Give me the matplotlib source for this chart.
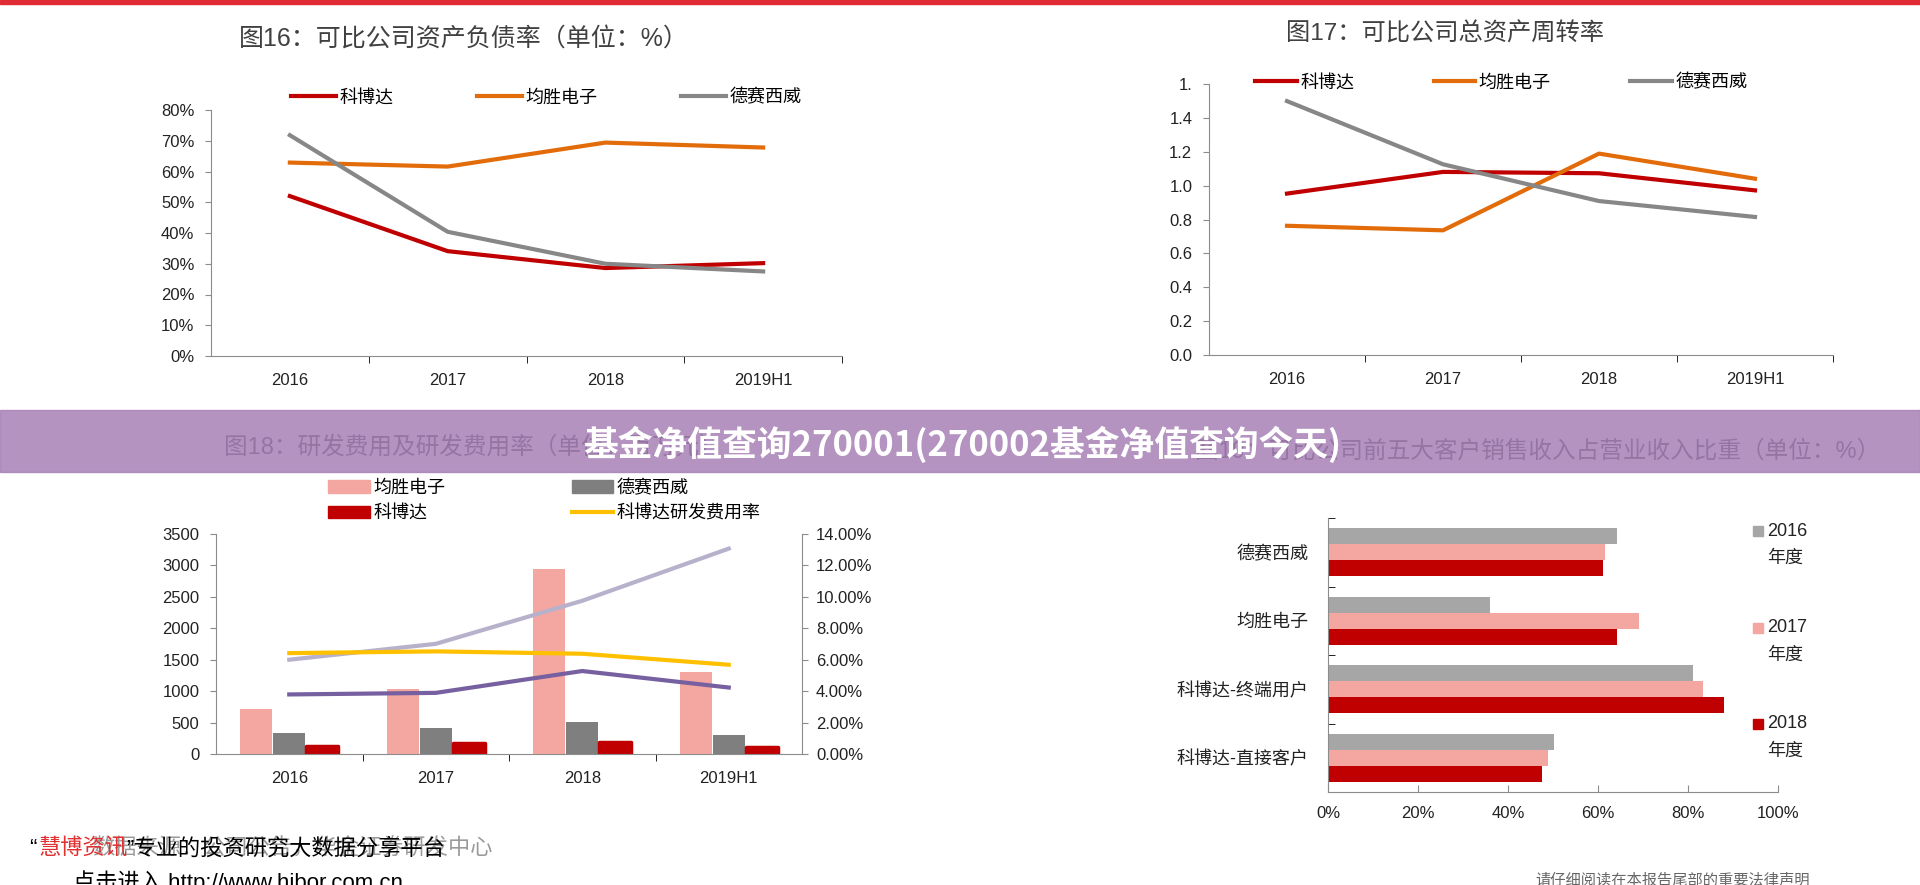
import numpy as np
import matplotlib
matplotlib.use('Agg')
import matplotlib.pyplot as plt
from matplotlib.patches import Rectangle, Patch
from matplotlib.lines import Line2D
from matplotlib.ticker import FuncFormatter

plt.rcParams['font.family'] = ['Liberation Sans', 'Noto Sans CJK SC']
plt.rcParams['axes.unicode_minus'] = False

years = ['2016', '2017', '2018', '2019H1']

# 图16 资产负债率(%)
debt_kbd = [52.0, 34.1, 28.6, 30.2]
debt_js = [62.9, 61.6, 69.4, 67.8]
debt_dsxw = [71.8, 40.4, 30.0, 27.5]

# 图17 总资产周转率
turn_kbd = [0.953, 1.081, 1.073, 0.972]
turn_js = [0.763, 0.736, 1.189, 1.041]
turn_dsxw = [1.499, 1.126, 0.909, 0.815]
turn_ticklabels = ['0.0', '0.2', '0.4', '0.6', '0.8', '1.0', '1.2', '1.4', '1.']

# 图18 研发费用(百万元)及研发费用率(%)
rd_js = [710, 1042, 2937, 1305]
rd_dsxw = [332, 411, 516, 295]
rd_kbd = [121, 174, 195, 105]
rate_kbd = [6.42, 6.53, 6.38, 5.68]
rate_js = [6.00, 7.01, 9.75, 13.07]
rate_dsxw = [3.79, 3.89, 5.28, 4.23]

# 图19 前五大客户收入占比(%)
cust_names = ['德赛西威', '均胜电子', '科博达-终端用户', '科博达-直接客户']
cust_2016 = [64.3, 36.1, 81.1, 50.2]
cust_2017 = [61.6, 69.2, 83.4, 48.9]
cust_2018 = [61.2, 64.2, 88.0, 47.5]
cust_years = ['2016', '2017', '2018']

RED = '#c00000'
ORANGE = '#e36c0a'
GREY = '#878787'
PINK = '#f4a7a0'
DGREY = '#7f7f7f'
LGREY = '#a6a6a6'
YELLOW = '#ffc000'
LAV = '#b8b1cc'
PURPLE = '#7660a0'
SPINE = '#8c8c8c'
TXT = '#222222'
TITLE = '#404040'

W, H = 1920, 885


def fx(x):
    return x / W


def fy(y):
    return 1 - y / H


def box(x0, y0, x1, y1):
    return [fx(x0), fy(y1), fx(x1 - x0), (y1 - y0) / H]


def style_axes(ax):
    for s in ['top', 'right']:
        ax.spines[s].set_visible(False)
    for s in ['left', 'bottom']:
        ax.spines[s].set_color(SPINE)
    ax.tick_params(colors=SPINE, labelcolor=TXT, labelsize=12)


fig = plt.figure(figsize=(19.2, 8.85), dpi=100)
x = np.arange(len(years))

# ---------- 图16 ----------
ax1 = fig.add_axes(box(211, 110, 842, 356))
ax1.plot(x, debt_kbd, color=RED, lw=3)
ax1.plot(x, debt_js, color=ORANGE, lw=3)
ax1.plot(x, debt_dsxw, color=GREY, lw=3)
ax1.set_xlim(-0.5, 3.5)
ax1.set_ylim(0, 80)
ax1.set_yticks(np.arange(0, 81, 10))
ax1.yaxis.set_major_formatter(FuncFormatter(lambda v, p: '%d%%' % v))
ax1.set_xticks(x, years)
ax1.set_xticks([0.5, 1.5, 2.5, 3.5], minor=True)
style_axes(ax1)
ax1.tick_params(axis='x', which='major', length=0, pad=12)
ax1.tick_params(axis='x', which='minor', length=5, direction='out')
ax1.tick_params(axis='y', length=4, pad=8)
fig.text(fx(239), fy(40), '图16：可比公司资产负债率（单位：%）', fontsize=18, color=TITLE, va='center')
h1 = [Line2D([], [], color=c, lw=3) for c in [RED, ORANGE, GREY]]
fig.legend(h1, ['科博达', '均胜电子', '德赛西威'], loc='center left', bbox_to_anchor=(fx(291), fy(98)),
           ncol=3, frameon=False, fontsize=13, handlelength=2.5, handletextpad=0.2, columnspacing=4.6,
           borderpad=0, borderaxespad=0)

# ---------- 图17 ----------
ax2 = fig.add_axes(box(1209, 84, 1833, 355))
ax2.plot(x, turn_kbd, color=RED, lw=3)
ax2.plot(x, turn_js, color=ORANGE, lw=3)
ax2.plot(x, turn_dsxw, color=GREY, lw=3)
ax2.set_xlim(-0.5, 3.5)
ax2.set_ylim(0, 1.6)
ax2.set_yticks(np.arange(0, 1.61, 0.2), turn_ticklabels)
ax2.set_xticks(x, years)
ax2.set_xticks([0.5, 1.5, 2.5, 3.5], minor=True)
style_axes(ax2)
ax2.tick_params(axis='x', which='major', length=0, pad=12)
ax2.tick_params(axis='x', which='minor', length=5, direction='out')
ax2.tick_params(axis='y', length=4, pad=8)
fig.text(fx(1286), fy(34), '图17：可比公司总资产周转率', fontsize=17.5, color=TITLE, va='center')
fig.legend(h1, ['科博达', '均胜电子', '德赛西威'], loc='center left', bbox_to_anchor=(fx(1255), fy(83)),
           ncol=3, frameon=False, fontsize=13, handlelength=2.3, handletextpad=0.2, columnspacing=4.4,
           borderpad=0, borderaxespad=0)

# ---------- 图18 ----------
ax3 = fig.add_axes(box(216, 534, 802, 754))
bw = 0.22
ax3.bar(x - 0.225, rd_js, width=bw, color=PINK, zorder=2)
ax3.bar(x, rd_dsxw, width=bw, color=DGREY, zorder=2)
ax3.bar(x + 0.225, rd_kbd, width=bw, color=RED, edgecolor=RED, lw=2.5, joinstyle='round', zorder=2)
ax3.set_xlim(-0.5, 3.5)
ax3.set_ylim(0, 3500)
ax3.set_yticks(np.arange(0, 3501, 500))
ax3.set_xticks(x, years)
ax3.set_xticks([0.5, 1.5, 2.5], minor=True)
style_axes(ax3)
ax3.tick_params(axis='x', which='major', length=0, pad=12)
ax3.tick_params(axis='x', which='minor', length=5, direction='out')
ax3.tick_params(axis='y', length=4, pad=8)

ax3b = ax3.twinx()
ax3b.plot(x, rate_js, color=LAV, lw=3)
ax3b.plot(x, rate_kbd, color=YELLOW, lw=3)
ax3b.plot(x, rate_dsxw, color=PURPLE, lw=3)
ax3b.set_ylim(0, 14)
ax3b.set_yticks(np.arange(0, 14.1, 2))
ax3b.yaxis.set_major_formatter(FuncFormatter(lambda v, p: '%.2f%%' % v))
for s in ['top', 'left', 'bottom']:
    ax3b.spines[s].set_visible(False)
ax3b.spines['right'].set_color(SPINE)
ax3b.tick_params(colors=SPINE, labelcolor=TXT, labelsize=12, length=4, pad=6)

fig.text(fx(224), fy(447), '图18：研发费用及研发费用率（单位：百万元）', fontsize=17, color=TITLE, va='center')
h3 = [Patch(color=PINK), Patch(color=RED), Patch(color=DGREY), Line2D([], [], color=YELLOW, lw=3)]
fig.legend(h3, ['均胜电子', '科博达', '德赛西威', '科博达研发费用率'], loc='center left',
           bbox_to_anchor=(fx(328), fy(501)), ncol=2, frameon=False, fontsize=13, handlelength=2.3,
           handletextpad=0.2, columnspacing=7.0, labelspacing=0.45, borderpad=0, borderaxespad=0)

# ---------- 图19 ----------
ax4 = fig.add_axes(box(1328, 518, 1778, 792))
yc = np.arange(len(cust_names))
bh = 0.23
ax4.barh(yc - 0.233, cust_2016, height=bh, color=LGREY)
ax4.barh(yc, cust_2017, height=bh, color=PINK)
ax4.barh(yc + 0.233, cust_2018, height=bh, color=RED)
ax4.set_ylim(3.5, -0.5)
ax4.set_xlim(0, 100)
ax4.set_xticks(np.arange(0, 101, 20))
ax4.xaxis.set_major_formatter(FuncFormatter(lambda v, p: '%d%%' % v))
ax4.set_yticks(yc, cust_names)
ax4.set_yticks([-0.5, 0.5, 1.5, 2.5], minor=True)
style_axes(ax4)
ax4.tick_params(axis='y', which='major', length=0, pad=14, labelsize=13)
ax4.tick_params(axis='y', which='minor', length=5, direction='in')
ax4.tick_params(axis='x', length=5, direction='in', pad=10)

for yr, col, ly in zip(cust_years, [LGREY, PINK, RED], [531, 628, 724]):
    fig.add_artist(Rectangle((fx(1753), fy(ly + 5)), fx(10), 10 / H, transform=fig.transFigure,
                             color=col))
    fig.text(fx(1767), fy(ly), yr, fontsize=13, color=TXT, va='center')
    fig.text(fx(1767), fy(ly + 27), '年度', fontsize=13, color=TXT, va='center')
fig.text(fx(1880), fy(451), '图19：可比公司前五大客户销售收入占营业收入比重（单位：%）', fontsize=17,
         color=TITLE, va='center', ha='right')

# ---------- 页面装饰 ----------
fig.add_artist(Rectangle((0, fy(4)), 1, 4 / H, transform=fig.transFigure, color='#e02b35'))
fig.add_artist(Rectangle((0, fy(472)), 1, 62 / H, transform=fig.transFigure, color='#a67fb6',
                         alpha=0.84, zorder=10))
fig.text(fx(962), fy(444), '基金净值查询270001(270002基金净值查询今天)', fontsize=25, color='white',
         fontweight='bold', ha='center', va='center', zorder=11,
         family=['Noto Sans CJK SC', 'DejaVu Sans'])

fig.text(fx(92), fy(849), '数据来源：公司公告，华金证券研发中心', fontsize=16, color='#9a9a9a',
         style='italic', va='center')
fig.text(fx(29), fy(849), '“', fontsize=16, color='black', va='center')
fig.text(fx(38), fy(849), '慧博资讯', fontsize=16, color='#e03030', va='center')
fig.text(fx(126), fy(849), '”专业的投资研究大数据分享平台', fontsize=16, color='black', va='center')
fig.text(fx(73), fy(870), '点击进入 http://www.hibor.com.cn', fontsize=16, color='black', va='top')
fig.text(fx(1535), fy(873), '请仔细阅读在本报告尾部的重要法律声明', fontsize=11, color='#666666', va='top')

fig.savefig('out.png', dpi=100, facecolor='white')
